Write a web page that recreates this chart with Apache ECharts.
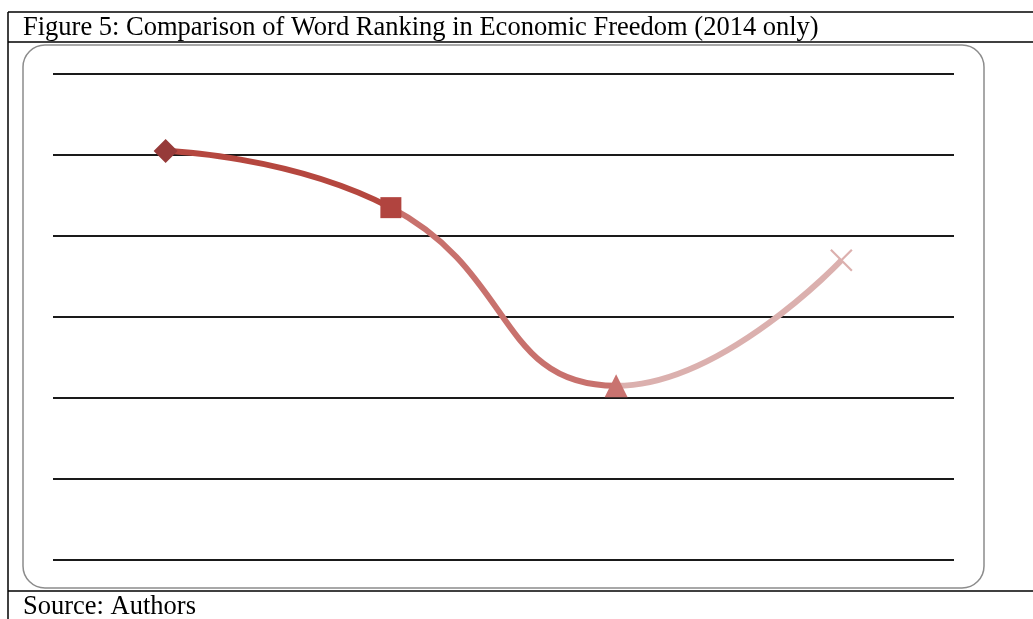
<!DOCTYPE html>
<html>
<head>
<meta charset="utf-8">
<script src="https://cdn.jsdelivr.net/npm/echarts@6/dist/echarts.min.js"></script>
<style>
  html, body { margin: 0; padding: 0; background: #fff; }
  #chart { width: 1033px; height: 619px; }
</style>
</head>
<body>
<div id="chart"></div>
<script>
// Ranking data, one point per country
const categories = ['A', 'B', 'C', 'D'];
const rankValues = [101, 87, 43, 74];
const pointSymbols = ['diamond', 'rect', 'triangle', 'path://M0,0L10,10M10,0L0,10'];
const pointSizes = [24, 21, 23, 21];
const pointColors = ['#963a39', '#b1443f', '#c97370', '#dcb0ae'];
const segmentColors = ['#b5473f', '#c8716d', '#dbb0ae'];
const yTicks = [0, 20, 40, 60, 80, 100, 120];

const chart = echarts.init(document.getElementById('chart'));

const markerData = rankValues.map((v, i) => {
  const isCross = pointSymbols[i].startsWith('path://');
  return {
    value: [categories[i], v],
    symbol: pointSymbols[i],
    symbolSize: pointSizes[i],
    itemStyle: isCross
      ? { color: 'transparent', borderColor: pointColors[i], borderWidth: 2.2, opacity: 1 }
      : { color: pointColors[i], opacity: 1 }
  };
});

chart.setOption({
  animation: false,
  textStyle: { fontFamily: 'Liberation Serif' },
  grid: { left: 53, right: 79, top: 74, bottom: 59 },
  xAxis: {
    type: 'category',
    data: categories,
    boundaryGap: true,
    axisLine: { show: false },
    axisTick: { show: false },
    axisLabel: { show: false }
  },
  yAxis: {
    type: 'value',
    min: yTicks[0],
    max: yTicks[yTicks.length - 1],
    interval: yTicks[1] - yTicks[0],
    axisLabel: { show: false },
    axisLine: { show: false },
    axisTick: { show: false },
    splitLine: { lineStyle: { color: '#1a1a1a', width: 2 } }
  },
  visualMap: {
    type: 'piecewise',
    show: false,
    dimension: 0,
    seriesIndex: 0,
    pieces: [
      { lt: 1, color: segmentColors[0] },
      { gte: 1, lt: 2, color: segmentColors[1] },
      { gte: 2, color: segmentColors[2] }
    ]
  },
  series: [
    {
      type: 'line',
      data: rankValues,
      smooth: 0.5,
      showSymbol: false,
      symbol: 'none',
      lineStyle: { width: 6 },
      z: 2
    },
    {
      type: 'scatter',
      data: markerData,
      itemStyle: { opacity: 1 },
      z: 3
    }
  ],
  graphic: [
    // table frame around the figure
    { type: 'line', shape: { x1: 8, y1: 12, x2: 1033, y2: 12 }, style: { stroke: '#000', lineWidth: 1.5 }, silent: true },
    { type: 'line', shape: { x1: 8, y1: 42, x2: 1033, y2: 42 }, style: { stroke: '#000', lineWidth: 1.5 }, silent: true },
    { type: 'line', shape: { x1: 8, y1: 591, x2: 1033, y2: 591 }, style: { stroke: '#000', lineWidth: 1.5 }, silent: true },
    { type: 'line', shape: { x1: 8, y1: 12, x2: 8, y2: 619 }, style: { stroke: '#000', lineWidth: 1.5 }, silent: true },
    // chart area outline
    { type: 'rect', shape: { x: 23, y: 45, width: 961, height: 543, r: 22 }, style: { fill: 'none', stroke: '#8c8c8c', lineWidth: 1.5 }, silent: true },
    { type: 'text', left: 23, top: 15, style: { text: 'Figure 5: Comparison of Word Ranking in Economic Freedom (2014 only)', font: '26.5px "Liberation Serif"', fill: '#000' } },
    { type: 'text', left: 23, top: 594, style: { text: 'Source: Authors', font: '26.5px "Liberation Serif"', fill: '#000' } }
  ]
});
</script>
</body>
</html>
